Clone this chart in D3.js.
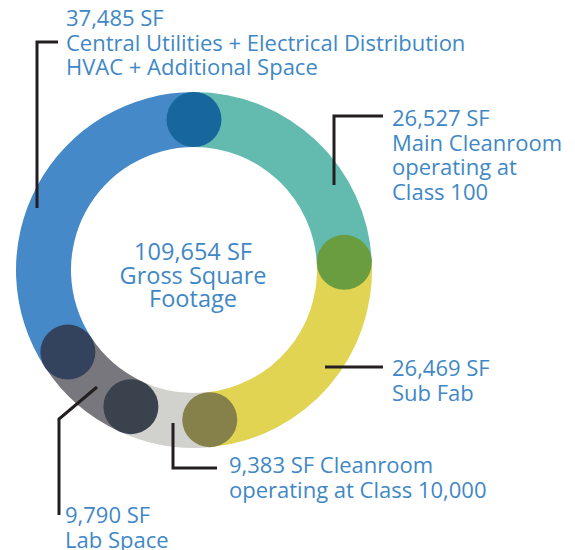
<!DOCTYPE html>
<html>
<head>
<meta charset="utf-8">
<script src="https://cdn.jsdelivr.net/npm/d3@7"></script>
<style>
  html, body { margin: 0; padding: 0; background: #fff; }
  svg { display: block; }
  .lbl { font-family: "Open Sans", Lato, sans-serif; font-size: 22px; fill: #3f88c5; }
  .center { font-size: 23.5px; }
</style>
</head>
<body>
<div id="chart"></div>
<script>
// space program, square feet, clockwise from 12 o'clock
const categories = ["Main Cleanroom", "Sub Fab", "Cleanroom Class 10,000", "Lab Space", "Central Utilities"];
const values = [26527, 26469, 9383, 9790, 37485];
const ringColors = ["#63bbb0", "#e1d452", "#d1d1cd", "#77777d", "#4589c8"];
// joint dots sit on the start edge of each segment
const jointColors = ["#17679c", "#6a9c40", "#86814b", "#3a424e", "#33435e"];
const labelLines = [
  ["26,527 SF", "Main Cleanroom", "operating at", "Class 100"],
  ["26,469 SF", "Sub Fab"],
  ["9,383 SF Cleanroom", "operating at Class 10,000"],
  ["9,790 SF", "Lab Space"],
  ["37,485 SF", "Central Utilities + Electrical Distribution", "HVAC + Additional Space"]
];
const centerLines = ["109,654 SF", "Gross Square", "Footage"];

const W = 575, H = 550;
const cx = 194, cy = 270;
const rIn = 123, rOut = 178, dotR = 27.5;
const LH = 24.5;

const svg = d3.select("#chart").append("svg")
  .attr("width", W).attr("height", H).attr("viewBox", `0 0 ${W} ${H}`);

const ring = svg.append("g").attr("transform", `translate(${cx},${cy})`);
const pie = d3.pie().sort(null).value(d => d)(values);
const arc = d3.arc().innerRadius(rIn).outerRadius(rOut);

ring.selectAll("path.seg").data(pie).join("path").attr("class", "seg")
  .attr("d", arc).attr("fill", (d, i) => ringColors[i]);

const rMid = (rIn + rOut) / 2;
ring.selectAll("circle.joint").data(pie).join("circle").attr("class", "joint")
  .attr("cx", d => rMid * Math.sin(d.startAngle))
  .attr("cy", d => -rMid * Math.cos(d.startAngle))
  .attr("r", dotR)
  .attr("fill", (d, i) => jointColors[i]);

// centre total
ring.append("text").attr("class", "lbl center").attr("text-anchor", "middle")
  .selectAll("tspan").data(centerLines).join("tspan")
  .attr("x", -1).attr("y", (d, i) => -10 + i * 23.5).text(d => d);

// callouts: leader path + text block origin (first baseline)
const callouts = [
  { path: [[334, 185], [334, 116], [383, 116]], x: 392, y: 126 },
  { path: [[325, 367], [383, 367]], x: 392, y: 376 },
  { path: [[173, 423], [173, 468], [217, 468]], x: 229, y: 473 },
  { path: [[97, 387], [59, 419], [59, 515]], x: 65, y: 523 },
  { path: [[37, 208], [37, 42], [58, 42]], x: 66, y: 26 }
];

const line = d3.line();
svg.selectAll("path.leader").data(callouts).join("path").attr("class", "leader")
  .attr("d", d => line(d.path))
  .attr("fill", "none").attr("stroke", "#231f20").attr("stroke-width", 3);

svg.selectAll("text.callout").data(callouts).join("text")
  .attr("class", "lbl callout")
  .each(function (d, i) {
    d3.select(this).selectAll("tspan").data(labelLines[i]).join("tspan")
      .attr("x", d.x).attr("y", (t, k) => d.y + k * LH).text(t => t);
  });
</script>
</body>
</html>
